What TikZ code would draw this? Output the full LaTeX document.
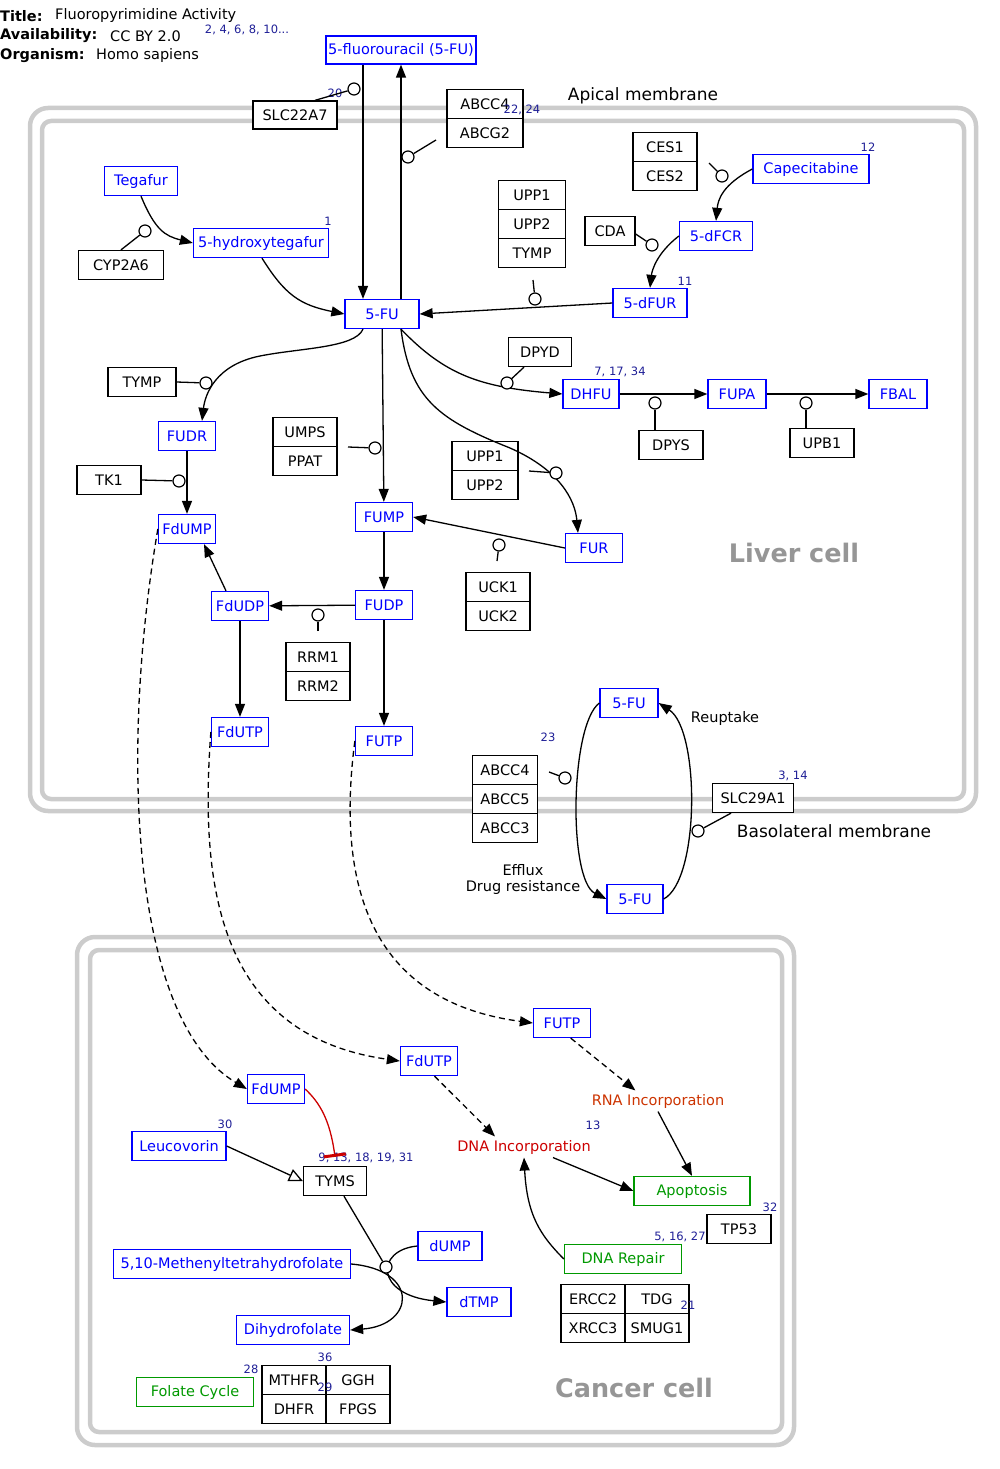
\documentclass[tikz,border=0pt]{standalone}
\usepackage{fontspec}
\setmainfont{DejaVu Sans}
\usepackage{tikz}
\usetikzlibrary{calc, arrows.meta}
\definecolor{metblue}{RGB}{0,0,255}
\definecolor{citeblue}{RGB}{30,30,150}
\definecolor{phenogreen}{RGB}{0,153,0}
\definecolor{dnared}{RGB}{204,0,0}
\definecolor{rnared}{RGB}{204,51,0}
\definecolor{membgray}{RGB}{204,204,204}
\definecolor{cellgray}{RGB}{150,150,150}
\tikzset{
  font=\fontsize{14.5}{17}\selectfont,
  % Set arrowhead
  >={Triangle[length=13pt,width=10pt]},
  % General box
  gbox/.style={draw, fill=white, shape=rectangle, line width=1.3pt,
    minimum height=29pt, inner sep=2pt},
  % Gene product
  gene/.style={gbox, draw=black, minimum width=#1},
  gene/.default=64pt,
  % Metabolite
  metab/.style={gbox, draw=metblue, text=metblue, minimum width=#1},
  metab/.default=57pt,
  % Pathway / phenotype
  pheno/.style={gbox, draw=phenogreen, text=phenogreen, minimum width=#1},
  pheno/.default=117pt,
  % Catalysis circle
  catal/.style={draw, fill=white, shape=circle, minimum size=12pt,
    inner sep=0pt, line width=1.2pt},
  % Literature reference
  lit/.style={text=citeblue, font=\fontsize{11.5}{13}\selectfont, inner sep=0pt},
  % Header text
  hdr/.style={anchor=west, inner sep=0pt},
  % Membranes and cells
  memb/.style={draw=membgray, line width=4.5pt},
  memlabel/.style={font=\fontsize{17}{20}\selectfont},
  celllabel/.style={text=cellgray, font=\fontsize{25.5}{30}\selectfont\bfseries},
  % Connectors
  rxn/.style={->, line width=1.3pt},
  rxn-/.style={line width=1.3pt},
  trans/.style={rxn, dash pattern=on 6pt off 4pt},
  inhib/.style={draw=dnared, line width=1.3pt, -{Bar[width=22pt,line width=3pt]}},
  bind/.style={line width=1.3pt, -{Triangle[open,length=14pt,width=13pt]}},
}

\begin{document}
\begin{tikzpicture}[x=1pt, y=-1pt]
  \useasboundingbox (0,0) rectangle (1000,1469);

  % header
  \node[hdr, font=\fontsize{14.5}{17}\selectfont\bfseries] (hTitle) at (0,16) {Title:};
  \node[hdr] (hTitleV) at (55,16) {Fluoropyrimidine Activity};
  \node[hdr, font=\fontsize{14.5}{17}\selectfont\bfseries] (hAvail) at (0,36) {Availability:};
  \node[hdr] (hAvailV) at (110,36) {CC BY 2.0};
  \node[hdr, font=\fontsize{14.5}{17}\selectfont\bfseries] (hOrg) at (0,56) {Organism:};
  \node[hdr] (hOrgV) at (96,56) {Homo sapiens};
  \node[lit] (rHdr) at (247,30) {2, 4, 6, 8, 10...};

  % membranes
  \draw[memb, rounded corners=18pt] (30,108) rectangle (976,811);
  \draw[memb, rounded corners=9pt] (42,121) rectangle (964,799);
  \draw[memb, rounded corners=18pt] (77,937) rectangle (794,1445);
  \draw[memb, rounded corners=9pt] (90,950) rectangle (782,1432);
  \node[memlabel] (apical) at (643,96) {Apical membrane};
  \node[memlabel] (baso) at (834,831) {Basolateral membrane};
  \node[celllabel] (liver) at (794,553) {Liver cell};
  \node[celllabel] (cancer) at (634,1388) {Cancer cell};

  % liver cell: metabolites
  \node[metab=150pt, minimum height=28pt] (fluoro) at (401,50) {5-fluorouracil (5-FU)};
  \node[metab=73pt] (tegafur) at (141,181) {Tegafur};
  \node[metab=135pt] (hteg) at (261,243) {5-hydroxytegafur};
  \node[metab=74pt] (fu) at (382,314) {5-FU};
  \node[metab=116pt] (cape) at (811,169) {Capecitabine};
  \node[metab=73pt] (dfcr) at (716,236) {5-dFCR};
  \node[metab=74pt] (dfur) at (650,303) {5-dFUR};
  \node[metab] (fudr) at (187,436) {FUDR};
  \node[metab] (fdumpL) at (187,529) {FdUMP};
  \node[metab=56pt] (dhfu) at (591,394) {DHFU};
  \node[metab=58pt] (fupa) at (737,394) {FUPA};
  \node[metab=58pt] (fbal) at (898,394) {FBAL};
  \node[metab] (fump) at (384,517) {FUMP};
  \node[metab] (fur) at (594,548) {FUR};
  \node[metab] (fdudp) at (240,606) {FdUDP};
  \node[metab] (fudp) at (384,605) {FUDP};
  \node[metab] (fdutpL) at (240,732) {FdUTP};
  \node[metab] (futpL) at (384,741) {FUTP};
  \node[metab=58pt] (fuTop) at (629,703) {5-FU};
  \node[metab=56pt] (fuBot) at (635,899) {5-FU};

  % liver cell: gene products
  \node[gene=84pt, minimum height=28pt] (slc22a7) at (295,115) {SLC22A7};
  \node[gene=76pt] (abcc4a) at (485,104) {ABCC4};
  \node[gene=76pt] (abcg2) at (485,133) {ABCG2};
  \node[gene=85pt] (cyp2a6) at (121,265) {CYP2A6};
  \node[gene=67pt] (upp1a) at (532,195) {UPP1};
  \node[gene=67pt] (upp2a) at (532,224) {UPP2};
  \node[gene=67pt] (tympa) at (532,253) {TYMP};
  \node[gene] (ces1) at (665,147) {CES1};
  \node[gene] (ces2) at (665,176) {CES2};
  \node[gene=50pt] (cda) at (610,231) {CDA};
  \node[gene=68pt] (tympb) at (142,382) {TYMP};
  \node[gene] (tk1) at (109,480) {TK1};
  \node[gene] (umps) at (305,432) {UMPS};
  \node[gene] (ppat) at (305,461) {PPAT};
  \node[gene=63pt] (dpyd) at (540,352) {DPYD};
  \node[gene] (dpys) at (671,445) {DPYS};
  \node[gene] (upb1) at (822,443) {UPB1};
  \node[gene=66pt] (upp1b) at (485,456) {UPP1};
  \node[gene=66pt] (upp2b) at (485,485) {UPP2};
  \node[gene] (uck1) at (498,587) {UCK1};
  \node[gene] (uck2) at (498,616) {UCK2};
  \node[gene] (rrm1) at (318,657) {RRM1};
  \node[gene] (rrm2) at (318,686) {RRM2};
  \node[gene=65pt] (abcc4b) at (505,770) {ABCC4};
  \node[gene=65pt] (abcc5) at (505,799) {ABCC5};
  \node[gene=65pt] (abcc3) at (505,828) {ABCC3};
  \node[gene=81pt] (slc29a1) at (753,798) {SLC29A1};

  \node (reup) at (725,718) {Reuptake};
  \node[align=center, font=\fontsize{14.5}{16}\selectfont] (efflux) at (523,879) {Efflux\\Drug resistance};

  % liver cell: references
  \node[lit] (r20) at (335,93) {20};
  \node[lit] (r22) at (522,110) {22, 24};
  \node[lit] (r1) at (328,221) {1};
  \node[lit] (r12) at (868,147) {12};
  \node[lit] (r11) at (685,281) {11};
  \node[lit] (r7) at (620,372) {7, 17, 34};
  \node[lit] (r23) at (548,737) {23};
  \node[lit] (r3) at (793,776) {3, 14};

  % liver cell: conversions
  \draw[rxn] ([xshift=-38pt]fluoro.south) -- ([xshift=-19pt]fu.north);
  \draw[rxn] ([xshift=19pt]fu.north) -- (fluoro.south);
  \draw[rxn] (tegafur.south) .. controls (155,230) and (165,236) .. (hteg.west);
  \draw[rxn] ([xshift=1pt]hteg.south) .. controls (285,295) and (300,305) .. (fu.west);
  \draw[rxn] (cape.west) .. controls (722,185) and (718,200) .. (dfcr.north);
  \draw[rxn] (dfcr.west) .. controls (657,253) and (652,270) .. (dfur.north);
  \draw[rxn] (dfur.west) -- (fu.east);
  \draw[rxn] ([xshift=-19pt]fu.south) .. controls (355,348) and (300,348) .. (260,356)
    .. controls (215,365) and (205,395) .. ([xshift=15pt]fudr.north);
  \draw[rxn] (fudr) -- (fdumpL);
  \draw[rxn] (fu) -- (fump);
  \draw[rxn] ([xshift=19pt]fu.south) .. controls (445,375) and (480,387) .. (dhfu.west);
  \draw[rxn] ([xshift=19pt]fu.south) .. controls (410,400) and (440,420) .. (510,448)
    .. controls (560,470) and (575,500) .. ([xshift=-16pt]fur.north);
  \draw[rxn] (dhfu) -- (fupa);
  \draw[rxn] (fupa) -- (fbal);
  \draw[rxn] (fur.west) -- (fump.east);
  \draw[rxn] (fump) -- (fudp);
  \draw[rxn] (fudp) -- (fdudp);
  \draw[rxn] ([xshift=-14pt]fdudp.north) -- ([xshift=17pt]fdumpL.south);
  \draw[rxn] (fdudp) -- (fdutpL);
  \draw[rxn] (fudp) -- (futpL);
  \draw[rxn] (fuTop.west) .. controls (570,725) and (568,880) .. (fuBot.west);
  \draw[rxn] (fuBot.east) .. controls (700,880) and (700,730) .. (fuTop.east);

  % liver cell: catalysis
  \coordinate (sAbc) at (436,140);
  \coordinate (sCes) at (709,163);
  \coordinate (sUpt) at (533,280);
  \coordinate (sUmps) at (348,447);
  \coordinate (sUpp) at (529,471);
  \coordinate (sUck) at (497,561);
  \coordinate (sRrm) at (318,631);
  \coordinate (sAbcc) at (549,772);
  \node[catal] (c20) at (354,89) {};
  \node[catal] (cAbc) at (408,157) {};
  \node[catal] (cCyp) at (145,231) {};
  \node[catal] (cCes) at (722,176) {};
  \node[catal] (cCda) at (652,245) {};
  \node[catal] (cUpt) at (535,299) {};
  \node[catal] (cTymp) at (206,383) {};
  \node[catal] (cTk) at (179,481) {};
  \node[catal] (cUmps) at (375,448) {};
  \node[catal] (cDpyd) at (507,383) {};
  \node[catal] (cUpp) at (556,473) {};
  \node[catal] (cDpys) at (655,403) {};
  \node[catal] (cUpb) at (806,403) {};
  \node[catal] (cUck) at (499,545) {};
  \node[catal] (cRrm) at (318,615) {};
  \node[catal] (cAbcc) at (565,778) {};
  \node[catal] (cSlc) at (698,831) {};
  \draw[rxn-] ([xshift=20pt]slc22a7.north) -- (c20);
  \draw[rxn-] (sAbc) -- (cAbc);
  \draw[rxn-] (cyp2a6.north) -- (cCyp);
  \draw[rxn-] (sCes) -- (cCes);
  \draw[rxn-] ([yshift=-3pt]cda.east) -- (cCda);
  \draw[rxn-] (sUpt) -- (cUpt);
  \draw[rxn-] (tympb.east) -- (cTymp);
  \draw[rxn-] (tk1.east) -- (cTk);
  \draw[rxn-] (sUmps) -- (cUmps);
  \draw[rxn-] ([xshift=-16pt]dpyd.south) -- (cDpyd);
  \draw[rxn-] (sUpp) -- (cUpp);
  \draw[rxn-] ([xshift=-16pt]dpys.north) -- (cDpys);
  \draw[rxn-] ([xshift=-16pt]upb1.north) -- (cUpb);
  \draw[rxn-] (sUck) -- (cUck);
  \draw[rxn-] (sRrm) -- (cRrm);
  \draw[rxn-] (sAbcc) -- (cAbcc);
  \draw[rxn-] ([xshift=-22pt]slc29a1.south) -- (cSlc);

  % cancer cell: nodes
  \node[metab] (futpC) at (562,1023) {FUTP};
  \node[metab] (fdutpC) at (429,1061) {FdUTP};
  \node[metab] (fdumpC) at (276,1089) {FdUMP};
  \node[text=rnared] (rnainc) at (658,1101) {RNA Incorporation};
  \node[text=dnared] (dnainc) at (524,1147) {DNA Incorporation};
  \node[pheno=116pt] (apop) at (692,1191) {Apoptosis};
  \node[gene] (tp53) at (739,1229) {TP53};
  \node[pheno] (dnarep) at (623,1259) {DNA Repair};
  \node[gene] (ercc2) at (593,1299) {ERCC2};
  \node[gene] (tdg) at (657,1299) {TDG};
  \node[gene] (xrcc3) at (593,1328) {XRCC3};
  \node[gene] (smug1) at (657,1328) {SMUG1};
  \node[metab=94pt] (leuco) at (179,1146) {Leucovorin};
  \node[gene=63pt] (tyms) at (335,1181) {TYMS};
  \node[metab=64pt] (dump) at (450,1246) {dUMP};
  \node[metab=64pt] (dtmp) at (479,1302) {dTMP};
  \node[metab=237pt] (methf) at (232,1264) {5,10-Methenyltetrahydrofolate};
  \node[metab=113pt] (dhf) at (293,1330) {Dihydrofolate};
  \node[pheno] (folate) at (195,1392) {Folate Cycle};
  \node[gene] (mthfr) at (294,1380) {MTHFR};
  \node[gene] (ggh) at (358,1380) {GGH};
  \node[gene] (dhfr) at (294,1409) {DHFR};
  \node[gene] (fpgs) at (358,1409) {FPGS};

  % cancer cell: references
  \node[lit] (r30) at (225,1124) {30};
  \node[lit] (r9) at (366,1158) {9, 13, 18, 19, 31};
  \node[lit] (r13) at (593,1125) {13};
  \node[lit] (r32) at (770,1207) {32};
  \node[lit] (r5) at (680,1237) {5, 16, 27};
  \node[lit] (r21) at (688,1305) {21};
  \node[lit] (r28) at (251,1369) {28};
  \node[lit] (r36) at (325,1357) {36};
  \node[lit] (r29) at (325,1387) {29};

  % liver to cancer transport
  \draw[trans] (fdumpL.west) .. controls (120,750) and (130,1020) .. (fdumpC.west);
  \draw[trans] (fdutpL.west) .. controls (200,880) and (215,1035) .. (fdutpC.west);
  \draw[trans] (futpL.west) .. controls (338,870) and (360,1000) .. (futpC.west);

  % cancer cell: interactions
  \draw[trans] (futpC.-60) -- (rnainc.155);
  \draw[trans] (fdutpC.-70) -- (dnainc.160);
  \draw[rxn] (rnainc.south) -- (apop.north);
  \draw[rxn] (dnainc.-20) -- (apop.west);
  \draw[rxn] (dnarep.west) .. controls (540,1235) and (527,1215) .. (dnainc.south);
  \draw[inhib] (fdumpC.east) .. controls (320,1103) and (330,1120) .. ([yshift=9pt]tyms.north);
  \draw[bind] (leuco.east) -- (tyms.west);
  \draw[rxn] (dump.west) .. controls (375,1250) and (375,1295) .. (dtmp.west);
  \draw[rxn] (methf.east) .. controls (420,1270) and (415,1325) .. (dhf.east);
  \node[catal] (anc) at (386,1267) {};
  \draw[rxn-] (tyms) -- (anc);
\end{tikzpicture}
\end{document}
